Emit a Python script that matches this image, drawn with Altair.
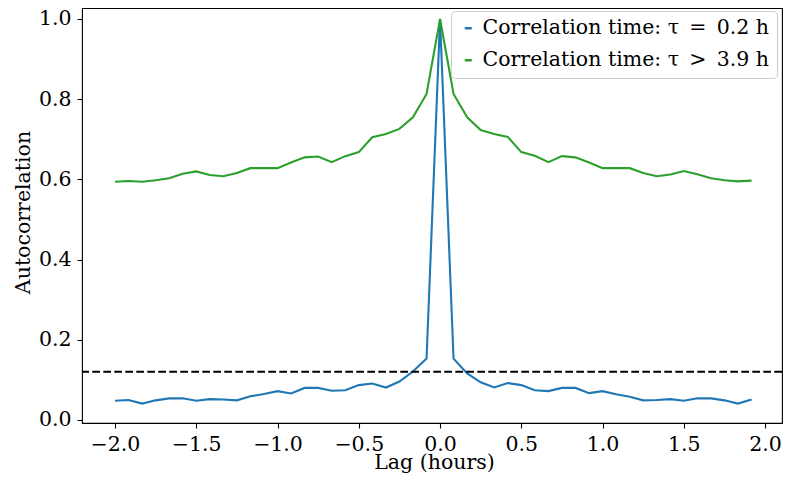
import altair as alt
import pandas as pd

lags = [-2.0, -1.917, -1.833, -1.75, -1.667, -1.583, -1.5, -1.417, -1.333, -1.25,
        -1.167, -1.083, -1.0, -0.917, -0.833, -0.75, -0.667, -0.583, -0.5, -0.417,
        -0.333, -0.25, -0.167, -0.083, 0.0, 0.083, 0.167, 0.25, 0.333, 0.417,
        0.5, 0.583, 0.667, 0.75, 0.833, 0.917, 1.0, 1.083, 1.167, 1.25,
        1.333, 1.417, 1.5, 1.583, 1.667, 1.75, 1.833, 1.917]

short_acf = [0.048, 0.050, 0.041, 0.049, 0.054, 0.054, 0.048, 0.052, 0.051, 0.049,
             0.059, 0.065, 0.072, 0.066, 0.080, 0.080, 0.073, 0.074, 0.087, 0.091,
             0.081, 0.096, 0.121, 0.153, 1.0, 0.153, 0.116, 0.094, 0.081, 0.092,
             0.087, 0.074, 0.072, 0.080, 0.080, 0.067, 0.072, 0.064, 0.058, 0.049,
             0.050, 0.052, 0.048, 0.054, 0.054, 0.049, 0.041, 0.051]

long_acf = [0.594, 0.596, 0.594, 0.598, 0.603, 0.614, 0.620, 0.611, 0.608, 0.616,
            0.628, 0.628, 0.628, 0.642, 0.655, 0.657, 0.643, 0.658, 0.668, 0.705,
            0.713, 0.726, 0.755, 0.813, 1.0, 0.813, 0.755, 0.723, 0.713, 0.706,
            0.668, 0.659, 0.643, 0.658, 0.655, 0.642, 0.628, 0.628, 0.628, 0.616,
            0.608, 0.612, 0.621, 0.613, 0.603, 0.598, 0.595, 0.597]

series_names = ["Correlation time: τ\u2002=\u20020.2 h", "Correlation time: τ\u2002>\u20023.9 h"]
series_colors = ["#1f77b4", "#2ca02c"]
threshold = [0.12]

x_ticks = [-2.0, -1.5, -1.0, -0.5, 0.0, 0.5, 1.0, 1.5, 2.0]
y_ticks = [0.0, 0.2, 0.4, 0.6, 0.8, 1.0]

df = pd.concat([
    pd.DataFrame({"lag": lags, "acf": short_acf, "series": series_names[0]}),
    pd.DataFrame({"lag": lags, "acf": long_acf, "series": series_names[1]}),
])
thr_df = pd.DataFrame({"y": threshold})

FONT = "DejaVu Serif"
FS = 20.5

x_enc = alt.X(
    "lag:Q",
    scale=alt.Scale(domain=[-2.203, 2.104], nice=False, zero=False),
    axis=alt.Axis(
        values=x_ticks, format=".1f", grid=False, domain=False,
        labelFont=FONT, labelFontSize=FS, labelColor="black",
        labelFlush=False, labelOverlap=False, labelPadding=6,
        tickColor="black", tickSize=5, tickWidth=1.1,
        title="Lag (hours)", titleFont=FONT, titleFontSize=FS,
        titleFontWeight="normal", titleColor="black",
        titleX=352, titleY=45, titleAlign="center", titleBaseline="alphabetic",
    ),
)
y_enc = alt.Y(
    "acf:Q",
    scale=alt.Scale(domain=[-0.0075, 1.0274], nice=False, zero=False),
    axis=alt.Axis(
        values=y_ticks, format=".1f", grid=False, domain=False,
        labelFont=FONT, labelFontSize=FS, labelColor="black",
        labelFlush=False, labelOverlap=False, labelPadding=6,
        tickColor="black", tickSize=5, tickWidth=1.1,
        title="Autocorrelation", titleFont=FONT, titleFontSize=FS,
        titleFontWeight="normal", titleColor="black",
        titleX=-53, titleY=204, titleAngle=270,
        titleAlign="center", titleBaseline="alphabetic",
    ),
)

lines = alt.Chart(df).mark_line(strokeWidth=2.1, clip=True).encode(
    x=x_enc,
    y=y_enc,
    order="lag:Q",
    color=alt.Color(
        "series:N",
        scale=alt.Scale(domain=series_names, range=series_colors),
        legend=alt.Legend(
            orient="none", legendX=369, legendY=3, title=None,
            symbolType="stroke", symbolSize=49, symbolStrokeWidth=2.5,
            labelFont=FONT, labelFontSize=FS, labelColor="black", labelLimit=0,
            labelOffset=4, rowPadding=11, padding=7,
            fillColor="white", strokeColor="#cccccc", cornerRadius=4,
        ),
    ),
)

rule = alt.Chart(thr_df).mark_rule(
    color="black", strokeWidth=2, strokeDash=[7.7, 3.3]
).encode(y=alt.Y("y:Q"))

chart = alt.layer(lines, rule).properties(
    width=700,
    height=415,
    background="white",
    autosize=alt.AutoSizeParams(type="none"),
    padding={"left": 74, "top": 0, "right": 1, "bottom": 51},
).configure_view(
    stroke="black", strokeWidth=1.1
)

chart.save("out.html", embed_options={"renderer": "svg", "actions": False})
